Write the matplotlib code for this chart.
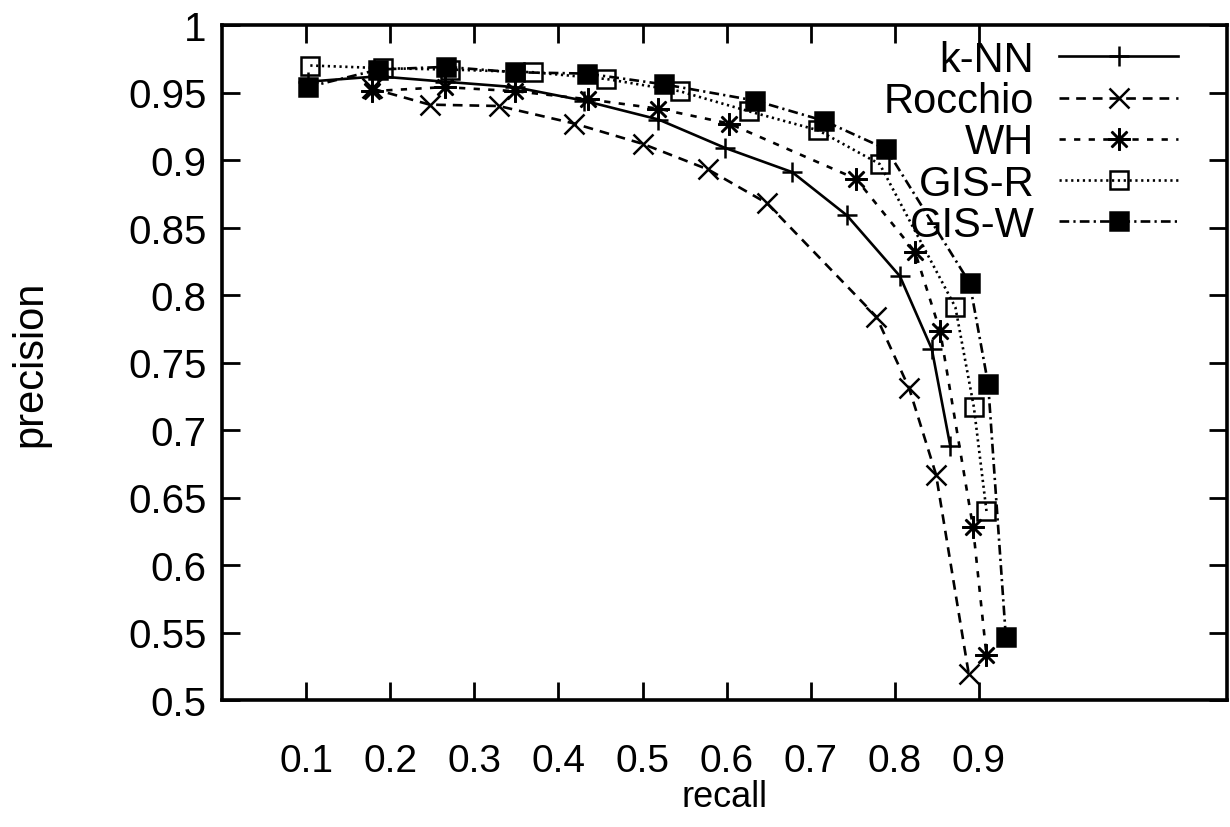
import matplotlib
matplotlib.use("Agg")
import matplotlib.pyplot as plt

plt.rcParams['font.family'] = ['Liberation Sans', 'DejaVu Sans']
plt.rcParams['lines.scale_dashes'] = False

# ---- data (recall, precision) ----
knn_recall = [0.102, 0.186, 0.265, 0.348, 0.430, 0.519, 0.598, 0.678, 0.743, 0.806, 0.844, 0.866]
knn_prec   = [0.958, 0.962, 0.958, 0.954, 0.944, 0.930, 0.909, 0.891, 0.859, 0.814, 0.760, 0.688]

rocchio_recall = [0.178, 0.247, 0.329, 0.419, 0.500, 0.578, 0.648, 0.778, 0.817, 0.849, 0.888]
rocchio_prec   = [0.953, 0.941, 0.940, 0.927, 0.912, 0.893, 0.868, 0.784, 0.731, 0.667, 0.519]

wh_recall = [0.178, 0.265, 0.348, 0.435, 0.519, 0.603, 0.754, 0.824, 0.854, 0.893, 0.909]
wh_prec   = [0.951, 0.954, 0.951, 0.945, 0.938, 0.927, 0.886, 0.832, 0.773, 0.628, 0.533]

gisr_recall = [0.105, 0.192, 0.271, 0.370, 0.457, 0.544, 0.627, 0.709, 0.782, 0.872, 0.894, 0.909]
gisr_prec   = [0.970, 0.968, 0.967, 0.965, 0.960, 0.951, 0.936, 0.922, 0.897, 0.791, 0.717, 0.640]

gisw_recall = [0.102, 0.186, 0.266, 0.348, 0.434, 0.526, 0.634, 0.716, 0.790, 0.889, 0.911, 0.932]
gisw_prec   = [0.954, 0.967, 0.969, 0.965, 0.964, 0.956, 0.944, 0.929, 0.908, 0.809, 0.734, 0.547]

series_names = ["k-NN", "Rocchio", "WH", "GIS-R", "GIS-W"]

x_ticks = [0.1, 0.2, 0.3, 0.4, 0.5, 0.6, 0.7, 0.8, 0.9]
x_tick_labels = ["0.1", "0.2", "0.3", "0.4", "0.5", "0.6", "0.7", "0.8", "0.9"]
y_ticks = [0.5, 0.55, 0.6, 0.65, 0.7, 0.75, 0.8, 0.85, 0.9, 0.95, 1.0]
y_tick_labels = ["0.5", "0.55", "0.6", "0.65", "0.7", "0.75", "0.8", "0.85", "0.9", "0.95", "1"]

W, H = 1230, 828
fig = plt.figure(figsize=(W / 100, H / 100), dpi=100)
L, R, T, B = 222, 1227, 26, 701
ax = fig.add_axes([L / W, 1 - B / H, (R - L) / W, (B - T) / H])

lw = 1.9
mew = 1.8
ax.plot(knn_recall, knn_prec, color='black', lw=lw, linestyle='-',
        marker='+', markersize=15, markeredgewidth=mew, label=series_names[0])
ax.plot(rocchio_recall, rocchio_prec, color='black', lw=lw, linestyle=(0, (7, 5)),
        marker='x', markersize=14, markeredgewidth=mew, label=series_names[1])
ax.plot(wh_recall, wh_prec, color='black', lw=lw, linestyle=(0, (4.5, 6)),
        marker=(8, 2, 0), markersize=16, markeredgewidth=mew, label=series_names[2])
ax.plot(gisr_recall, gisr_prec, color='black', lw=lw, linestyle=(0, (1.6, 2.6)),
        marker='s', markersize=13.5, markerfacecolor='none', markeredgecolor='black',
        markeredgewidth=mew, label=series_names[3])
ax.plot(gisw_recall, gisw_prec, color='black', lw=lw, linestyle=(0, (7, 3, 1.6, 3)),
        marker='s', markersize=13.5, markerfacecolor='black', markeredgecolor='black',
        markeredgewidth=mew, label=series_names[4])

ax.set_xlim(0, 1.195)
ax.set_ylim(0.5, 1.0)
ax.set_xticks(x_ticks)
ax.set_xticklabels(x_tick_labels)
ax.set_yticks(y_ticks)
ax.set_yticklabels(y_tick_labels)

for s in ax.spines.values():
    s.set_linewidth(2.6)

ax.tick_params(axis='both', direction='in', length=13, width=2.0,
               top=True, right=True, labelsize=29)
ax.tick_params(axis='x', pad=31, labelsize=28)
ax.tick_params(axis='y', pad=11)

ax.set_xlabel("recall", fontsize=26, labelpad=0)
ax.set_ylabel("precision", fontsize=30, labelpad=56)

fs_leg = 30
leg = ax.legend(loc='upper right', bbox_to_anchor=(1178 / W, 1 - 41 / H),
                bbox_transform=fig.transFigure, frameon=False, markerfirst=False,
                fontsize=fs_leg, handlelength=2.85, handletextpad=0.6,
                labelspacing=0.03, borderaxespad=0, borderpad=0, numpoints=1)

fig.savefig("out.png", dpi=100)
